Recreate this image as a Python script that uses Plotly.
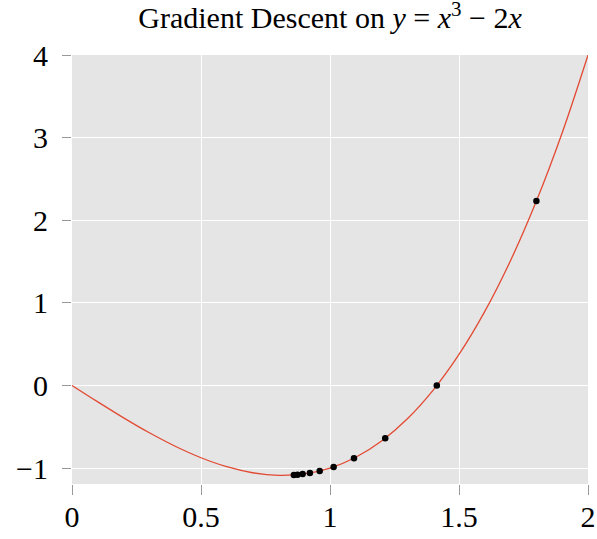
import plotly.graph_objects as go

# Curve samples of y = x^3 - 2x
curve_x = [0.0, 0.1, 0.2, 0.3, 0.4, 0.5, 0.6, 0.7, 0.8, 0.9, 1.0,
           1.1, 1.2, 1.3, 1.4, 1.5, 1.6, 1.7, 1.8, 1.9, 2.0]
curve_y = [0.0, -0.199, -0.392, -0.573, -0.736, -0.875, -0.984, -1.057, -1.088, -1.071, -1.0,
           -0.869, -0.672, -0.403, -0.056, 0.375, 0.896, 1.513, 2.232, 3.059, 4.0]

# Gradient descent iterates
step_x = [1.8, 1.414, 1.214, 1.093, 1.014, 0.960, 0.922, 0.894, 0.874, 0.860]
step_y = [2.232, 0.0, -0.639, -0.880, -0.986, -1.036, -1.060, -1.073, -1.080, -1.084]

x_ticks = [0, 0.5, 1, 1.5, 2]
x_tick_labels = ["0", "0.5", "1", "1.5", "2"]
y_ticks = [-1, 0, 1, 2, 3, 4]
y_tick_labels = ["\u22121", "0", "1", "2", "3", "4"]

FONT = "Liberation Serif"

fig = go.Figure()
fig.add_trace(go.Scatter(x=curve_x, y=curve_y, mode="lines",
                         line=dict(color="#E24A33", width=1.3, shape="spline", smoothing=1.0),
                         hoverinfo="skip", showlegend=False))
fig.add_trace(go.Scatter(x=step_x, y=step_y, mode="markers",
                         marker=dict(color="black", size=6.5),
                         showlegend=False))

fig.update_layout(
    width=597, height=539,
    margin=dict(l=72, r=9, t=55, b=55, autoexpand=False),
    paper_bgcolor="white", plot_bgcolor="#E5E5E5",
    font=dict(family=FONT, size=30, color="black"),
    title=dict(text="Gradient Descent on <i>y</i> = <i>x</i><sup>3</sup> \u2212 2<i>x</i>",
               x=0.5528, xanchor="center", y=0.967, yanchor="middle",
               font=dict(family=FONT, size=30)),
)
fig.update_xaxes(range=[0, 2], tickvals=x_ticks, ticktext=x_tick_labels,
                 showgrid=True, gridcolor="white", gridwidth=1,
                 zeroline=False, showline=False, automargin=False,
                 ticks="outside", ticklen=10, tickcolor="#999999", tickwidth=1,
                 ticklabelstandoff=-4)
fig.update_yaxes(range=[-1.193, 4], tickvals=y_ticks, ticktext=y_tick_labels,
                 showgrid=True, gridcolor="white", gridwidth=1,
                 zeroline=False, showline=False, automargin=False,
                 ticks="outside", ticklen=9, tickcolor="#999999", tickwidth=1,
                 ticklabelstandoff=8)

fig.write_html("out.html", config={"displayModeBar": False},
               post_script="document.body.style.margin='0';")
